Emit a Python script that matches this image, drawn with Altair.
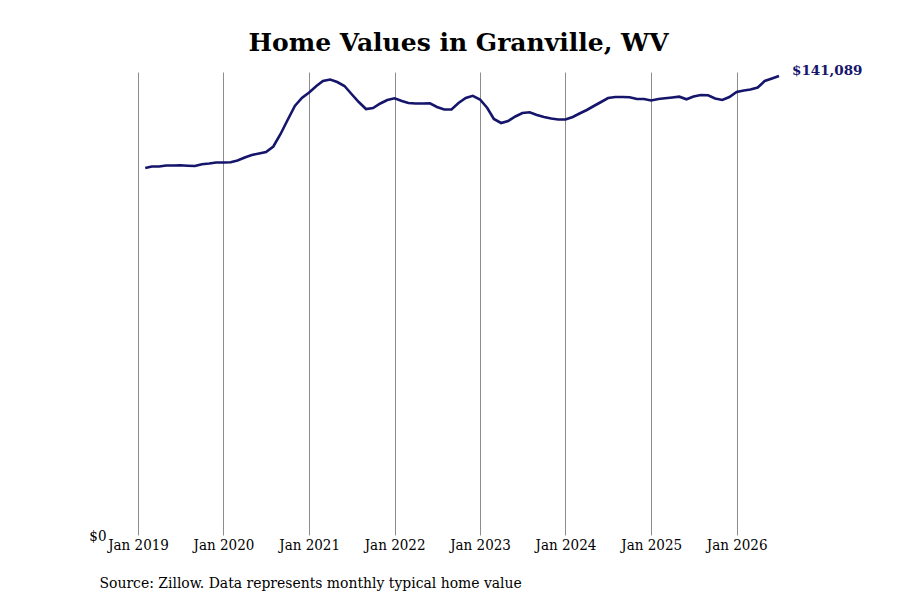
import altair as alt
import pandas as pd

months = pd.date_range("2019-02-01", "2026-07-01", freq="MS").strftime("%Y-%m-%d").tolist()
values = [
    112808, 113270, 113270, 113577, 113577, 113638, 113516, 113423, 113946, 114192, 114499,
    114499, 114561, 115114, 116036, 116804, 117266, 117727, 119417, 123259, 127563, 131866, 134325,
    136016, 138014, 139551, 140012, 139243, 138014, 135555, 133096, 130944, 131251, 132634, 133710,
    134233, 133403, 132788, 132634, 132634, 132696, 131559, 130790, 130790, 132788, 134325, 135002,
    133864, 131251, 127870, 126641, 127255, 128639, 129714, 129930, 129100, 128485, 128024, 127716,
    127716, 128485, 129561, 130637, 131866, 133096, 134325, 134632, 134632, 134540, 134018, 134018,
    133557, 134018, 134233, 134479, 134725, 133925, 134786, 135247, 135155, 134171, 133710, 134632,
    136169, 136630, 136938, 137553, 139551, 140319, 141089,
]
tick_years = list(range(2019, 2027))
title_text = "Home Values in Granville, WV"
source_text = "Source: Zillow. Data represents monthly typical home value"
last_label = "$141,089"

df = pd.DataFrame({"date": months, "value": values})
last_df = df.tail(1).assign(label=last_label)

NAVY = "#15156b"
SERIF = "DejaVu Serif"
LABEL_FONT = "DejaVu Serif Condensed"

x = alt.X(
    "date:T",
    scale=alt.Scale(domain=[alt.DateTime(year=2019, month=1, date=1), alt.DateTime(year=2026, month=7, date=1)]),
    axis=alt.Axis(
        values=[alt.DateTime(year=y, month=1, date=1) for y in tick_years],
        format="%b %Y",
        grid=True,
        gridColor="#8c8c8c",
        gridWidth=1,
        ticks=False,
        domain=False,
        labelOverlap=False,
        labelFlush=False,
        labelPadding=2,
        labelFont=LABEL_FONT,
        labelFontSize=15,
        labelColor="#000000",
        title=source_text,
        titleFont=LABEL_FONT,
        titleFontSize=15.5,
        titleFontWeight="normal",
        titleColor="#000000",
        titleAlign="left",
        titleBaseline="alphabetic",
        titleX=-39,
        titleY=52,
    ),
)
y = alt.Y(
    "value:Q",
    scale=alt.Scale(domain=[0, 142317], nice=False, zero=True),
    axis=alt.Axis(
        values=[0],
        format="$,.0f",
        grid=False,
        ticks=False,
        domain=False,
        labelPadding=32,
        labelFont=LABEL_FONT,
        labelFontSize=15,
        labelColor="#000000",
        title=None,
    ),
)

line = alt.Chart(df).mark_line(color=NAVY, strokeWidth=2.6).encode(x=x, y=y)
label = alt.Chart(last_df).mark_text(
    align="left", baseline="middle", dx=13, dy=-5, font=SERIF, fontSize=13.5, fontWeight="bold", color=NAVY
).encode(x="date:T", y="value:Q", text="label:N")

chart = (
    alt.layer(line, label)
    .properties(
        width=641,
        height=463,
        background="#ffffff",
        autosize=alt.AutoSizeParams(type="none"),
        padding={"left": 130, "top": 64, "right": 113, "bottom": 57},
        title=alt.TitleParams(
            title_text, font=SERIF, fontSize=25, fontWeight="bold", color="#000000", anchor="middle", offset=8
        ),
    )
    .configure_view(strokeWidth=0, stroke="transparent")
)

chart.save("out.html", embed_options={"renderer": "svg", "actions": False})
